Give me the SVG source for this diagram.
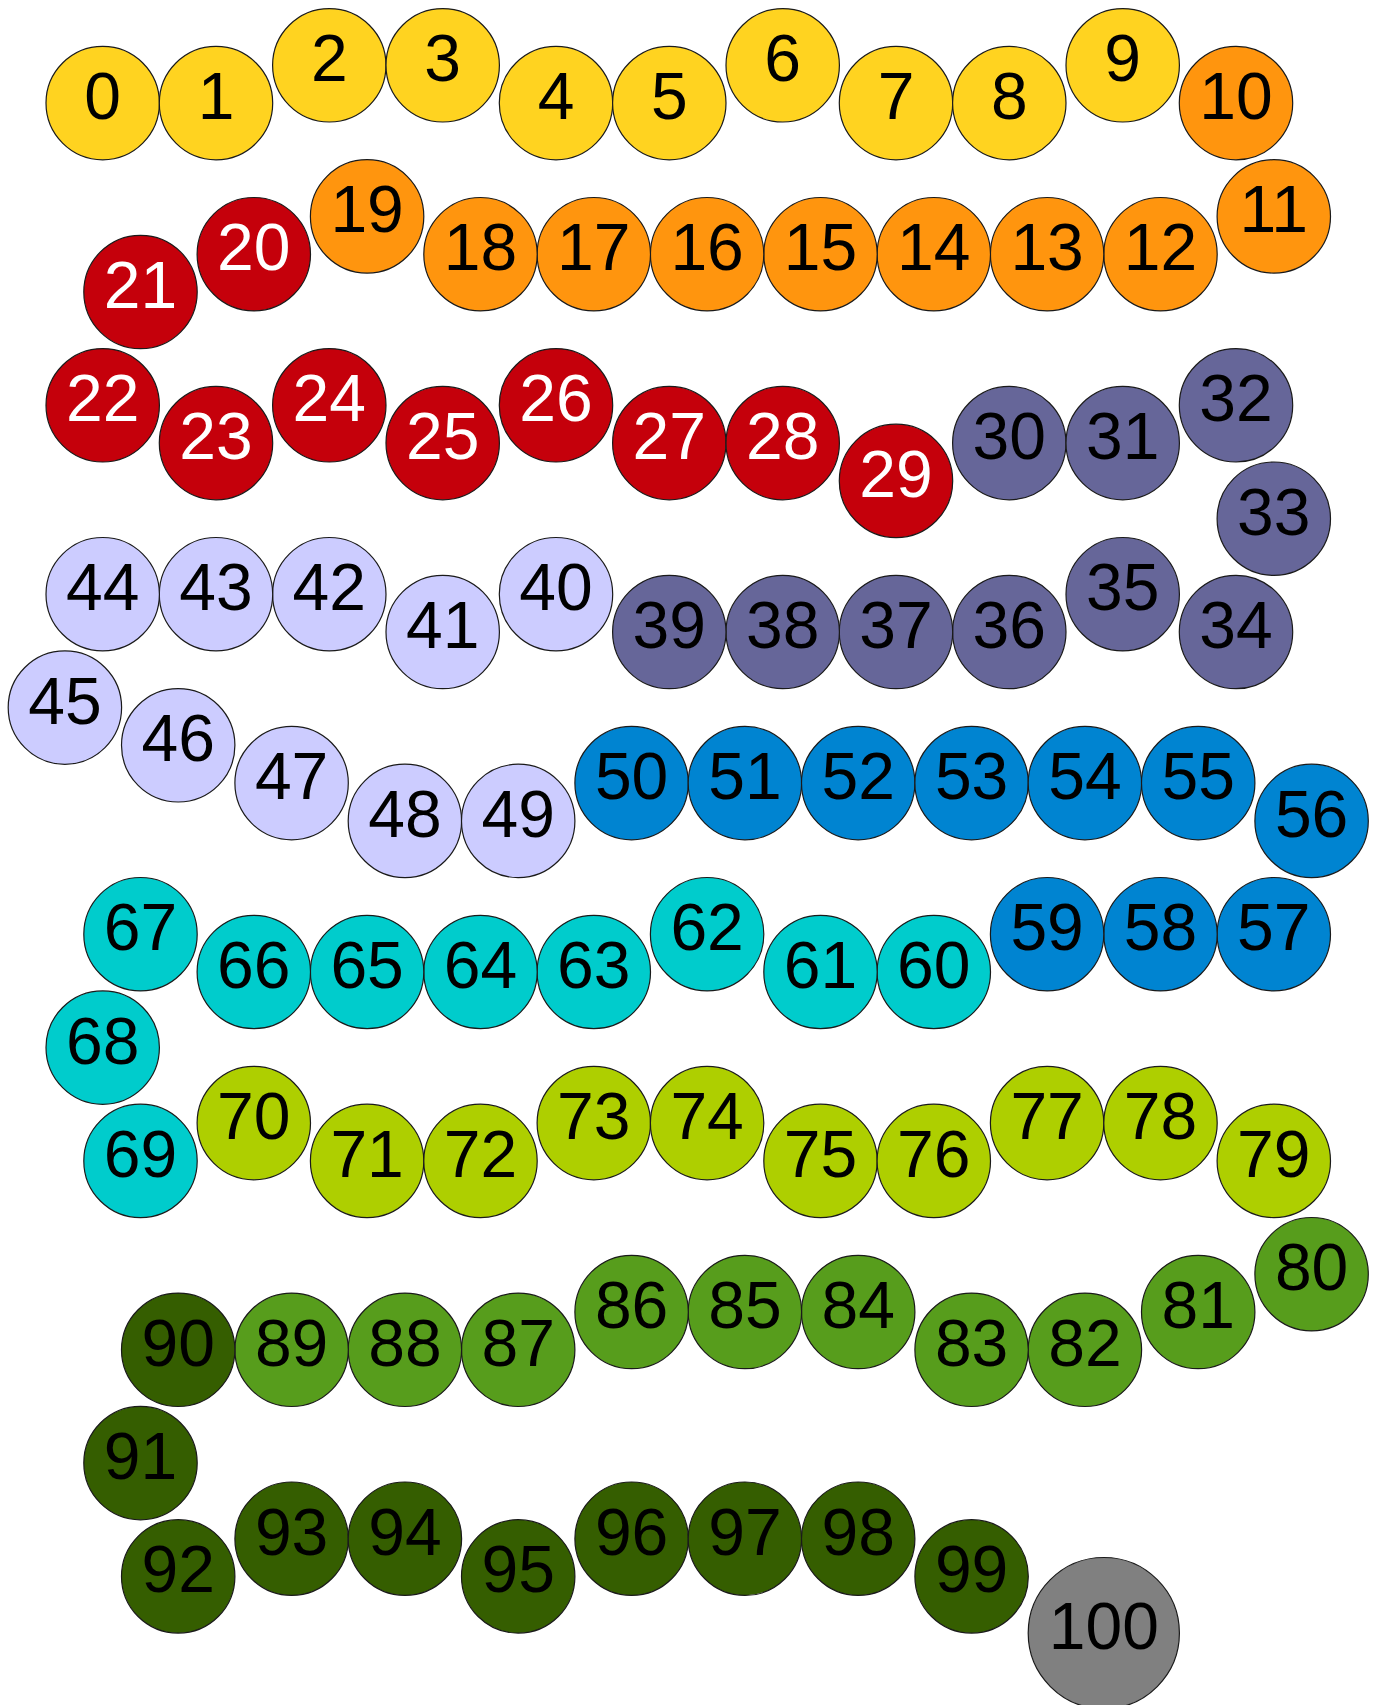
<svg xmlns="http://www.w3.org/2000/svg" width="1383" height="1705" viewBox="0 0 1383 1705">
<style>
circle{stroke:#1a1a1a;stroke-width:1.2}
text{font-family:"Liberation Sans","DejaVu Sans",sans-serif;font-size:66px;text-anchor:middle;fill:#000}
.y{fill:#FFD320}.o{fill:#FF950E}.r{fill:#C5000B}.s{fill:#666699}.l{fill:#CCCCFF}.b{fill:#0084D1}.c{fill:#00CCCC}.yg{fill:#AECF00}.g{fill:#579D1C}.dg{fill:#355E00}.gr{fill:#808080}
.w{fill:#fff}
</style>
<rect width="1383" height="1705" fill="#fff"/>
<g id="connectors"/>
<g id="n0"><circle class="y" cx="102.7" cy="103.1" r="56.7"/><text x="102.7" y="119.1">0</text></g>
<g id="n1"><circle class="y" cx="216" cy="103.1" r="56.7"/><text x="216" y="119.1">1</text></g>
<g id="n2"><circle class="y" cx="329.3" cy="65.3" r="56.7"/><text x="329.3" y="81.3">2</text></g>
<g id="n3"><circle class="y" cx="442.7" cy="65.3" r="56.7"/><text x="442.7" y="81.3">3</text></g>
<g id="n4"><circle class="y" cx="556" cy="103.1" r="56.7"/><text x="556" y="119.1">4</text></g>
<g id="n5"><circle class="y" cx="669.3" cy="103.1" r="56.7"/><text x="669.3" y="119.1">5</text></g>
<g id="n6"><circle class="y" cx="782.7" cy="65.3" r="56.7"/><text x="782.7" y="81.3">6</text></g>
<g id="n7"><circle class="y" cx="896" cy="103.1" r="56.7"/><text x="896" y="119.1">7</text></g>
<g id="n8"><circle class="y" cx="1009.3" cy="103.1" r="56.7"/><text x="1009.3" y="119.1">8</text></g>
<g id="n9"><circle class="y" cx="1122.7" cy="65.3" r="56.7"/><text x="1122.7" y="81.3">9</text></g>
<g id="n10"><circle class="o" cx="1236" cy="103.1" r="56.7"/><text x="1236" y="119.1">10</text></g>
<g id="n11"><circle class="o" cx="1273.8" cy="216.4" r="56.7"/><text x="1273.8" y="232.4">11</text></g>
<g id="n12"><circle class="o" cx="1160.5" cy="254.2" r="56.7"/><text x="1160.5" y="270.2">12</text></g>
<g id="n13"><circle class="o" cx="1047.1" cy="254.2" r="56.7"/><text x="1047.1" y="270.2">13</text></g>
<g id="n14"><circle class="o" cx="933.8" cy="254.2" r="56.7"/><text x="933.8" y="270.2">14</text></g>
<g id="n15"><circle class="o" cx="820.5" cy="254.2" r="56.7"/><text x="820.5" y="270.2">15</text></g>
<g id="n16"><circle class="o" cx="707.1" cy="254.2" r="56.7"/><text x="707.1" y="270.2">16</text></g>
<g id="n17"><circle class="o" cx="593.8" cy="254.2" r="56.7"/><text x="593.8" y="270.2">17</text></g>
<g id="n18"><circle class="o" cx="480.5" cy="254.2" r="56.7"/><text x="480.5" y="270.2">18</text></g>
<g id="n19"><circle class="o" cx="367.1" cy="216.4" r="56.7"/><text x="367.1" y="232.4">19</text></g>
<g id="n20"><circle class="r" cx="253.8" cy="254.2" r="56.7"/><text class="w" x="253.8" y="270.2">20</text></g>
<g id="n21"><circle class="r" cx="140.5" cy="292" r="56.7"/><text class="w" x="140.5" y="308">21</text></g>
<g id="n22"><circle class="r" cx="102.7" cy="405.3" r="56.7"/><text class="w" x="102.7" y="421.3">22</text></g>
<g id="n23"><circle class="r" cx="216" cy="443.1" r="56.7"/><text class="w" x="216" y="459.1">23</text></g>
<g id="n24"><circle class="r" cx="329.3" cy="405.3" r="56.7"/><text class="w" x="329.3" y="421.3">24</text></g>
<g id="n25"><circle class="r" cx="442.7" cy="443.1" r="56.7"/><text class="w" x="442.7" y="459.1">25</text></g>
<g id="n26"><circle class="r" cx="556" cy="405.3" r="56.7"/><text class="w" x="556" y="421.3">26</text></g>
<g id="n27"><circle class="r" cx="669.3" cy="443.1" r="56.7"/><text class="w" x="669.3" y="459.1">27</text></g>
<g id="n28"><circle class="r" cx="782.7" cy="443.1" r="56.7"/><text class="w" x="782.7" y="459.1">28</text></g>
<g id="n29"><circle class="r" cx="896" cy="480.9" r="56.7"/><text class="w" x="896" y="496.9">29</text></g>
<g id="n30"><circle class="s" cx="1009.3" cy="443.1" r="56.7"/><text x="1009.3" y="459.1">30</text></g>
<g id="n31"><circle class="s" cx="1122.7" cy="443.1" r="56.7"/><text x="1122.7" y="459.1">31</text></g>
<g id="n32"><circle class="s" cx="1236" cy="405.3" r="56.7"/><text x="1236" y="421.3">32</text></g>
<g id="n33"><circle class="s" cx="1273.8" cy="518.7" r="56.7"/><text x="1273.8" y="534.7">33</text></g>
<g id="n34"><circle class="s" cx="1236" cy="632" r="56.7"/><text x="1236" y="648">34</text></g>
<g id="n35"><circle class="s" cx="1122.7" cy="594.2" r="56.7"/><text x="1122.7" y="610.2">35</text></g>
<g id="n36"><circle class="s" cx="1009.3" cy="632" r="56.7"/><text x="1009.3" y="648">36</text></g>
<g id="n37"><circle class="s" cx="896" cy="632" r="56.7"/><text x="896" y="648">37</text></g>
<g id="n38"><circle class="s" cx="782.7" cy="632" r="56.7"/><text x="782.7" y="648">38</text></g>
<g id="n39"><circle class="s" cx="669.3" cy="632" r="56.7"/><text x="669.3" y="648">39</text></g>
<g id="n40"><circle class="l" cx="556" cy="594.2" r="56.7"/><text x="556" y="610.2">40</text></g>
<g id="n41"><circle class="l" cx="442.7" cy="632" r="56.7"/><text x="442.7" y="648">41</text></g>
<g id="n42"><circle class="l" cx="329.3" cy="594.2" r="56.7"/><text x="329.3" y="610.2">42</text></g>
<g id="n43"><circle class="l" cx="216" cy="594.2" r="56.7"/><text x="216" y="610.2">43</text></g>
<g id="n44"><circle class="l" cx="102.7" cy="594.2" r="56.7"/><text x="102.7" y="610.2">44</text></g>
<g id="n45"><circle class="l" cx="64.9" cy="707.6" r="56.7"/><text x="64.9" y="723.6">45</text></g>
<g id="n46"><circle class="l" cx="178.2" cy="745.3" r="56.7"/><text x="178.2" y="761.3">46</text></g>
<g id="n47"><circle class="l" cx="291.6" cy="783.1" r="56.7"/><text x="291.6" y="799.1">47</text></g>
<g id="n48"><circle class="l" cx="404.9" cy="820.9" r="56.7"/><text x="404.9" y="836.9">48</text></g>
<g id="n49"><circle class="l" cx="518.2" cy="820.9" r="56.7"/><text x="518.2" y="836.9">49</text></g>
<g id="n50"><circle class="b" cx="631.6" cy="783.1" r="56.7"/><text x="631.6" y="799.1">50</text></g>
<g id="n51"><circle class="b" cx="744.9" cy="783.1" r="56.7"/><text x="744.9" y="799.1">51</text></g>
<g id="n52"><circle class="b" cx="858.2" cy="783.1" r="56.7"/><text x="858.2" y="799.1">52</text></g>
<g id="n53"><circle class="b" cx="971.6" cy="783.1" r="56.7"/><text x="971.6" y="799.1">53</text></g>
<g id="n54"><circle class="b" cx="1084.9" cy="783.1" r="56.7"/><text x="1084.9" y="799.1">54</text></g>
<g id="n55"><circle class="b" cx="1198.2" cy="783.1" r="56.7"/><text x="1198.2" y="799.1">55</text></g>
<g id="n56"><circle class="b" cx="1311.6" cy="820.9" r="56.7"/><text x="1311.6" y="836.9">56</text></g>
<g id="n57"><circle class="b" cx="1273.8" cy="934.2" r="56.7"/><text x="1273.8" y="950.2">57</text></g>
<g id="n58"><circle class="b" cx="1160.5" cy="934.2" r="56.7"/><text x="1160.5" y="950.2">58</text></g>
<g id="n59"><circle class="b" cx="1047.1" cy="934.2" r="56.7"/><text x="1047.1" y="950.2">59</text></g>
<g id="n60"><circle class="c" cx="933.8" cy="972" r="56.7"/><text x="933.8" y="988">60</text></g>
<g id="n61"><circle class="c" cx="820.5" cy="972" r="56.7"/><text x="820.5" y="988">61</text></g>
<g id="n62"><circle class="c" cx="707.1" cy="934.2" r="56.7"/><text x="707.1" y="950.2">62</text></g>
<g id="n63"><circle class="c" cx="593.8" cy="972" r="56.7"/><text x="593.8" y="988">63</text></g>
<g id="n64"><circle class="c" cx="480.5" cy="972" r="56.7"/><text x="480.5" y="988">64</text></g>
<g id="n65"><circle class="c" cx="367.1" cy="972" r="56.7"/><text x="367.1" y="988">65</text></g>
<g id="n66"><circle class="c" cx="253.8" cy="972" r="56.7"/><text x="253.8" y="988">66</text></g>
<g id="n67"><circle class="c" cx="140.5" cy="934.2" r="56.7"/><text x="140.5" y="950.2">67</text></g>
<g id="n68"><circle class="c" cx="102.7" cy="1047.6" r="56.7"/><text x="102.7" y="1063.6">68</text></g>
<g id="n69"><circle class="c" cx="140.5" cy="1160.9" r="56.7"/><text x="140.5" y="1176.9">69</text></g>
<g id="n70"><circle class="yg" cx="253.8" cy="1123.1" r="56.7"/><text x="253.8" y="1139.1">70</text></g>
<g id="n71"><circle class="yg" cx="367.1" cy="1160.9" r="56.7"/><text x="367.1" y="1176.9">71</text></g>
<g id="n72"><circle class="yg" cx="480.5" cy="1160.9" r="56.7"/><text x="480.5" y="1176.9">72</text></g>
<g id="n73"><circle class="yg" cx="593.8" cy="1123.1" r="56.7"/><text x="593.8" y="1139.1">73</text></g>
<g id="n74"><circle class="yg" cx="707.1" cy="1123.1" r="56.7"/><text x="707.1" y="1139.1">74</text></g>
<g id="n75"><circle class="yg" cx="820.5" cy="1160.9" r="56.7"/><text x="820.5" y="1176.9">75</text></g>
<g id="n76"><circle class="yg" cx="933.8" cy="1160.9" r="56.7"/><text x="933.8" y="1176.9">76</text></g>
<g id="n77"><circle class="yg" cx="1047.1" cy="1123.1" r="56.7"/><text x="1047.1" y="1139.1">77</text></g>
<g id="n78"><circle class="yg" cx="1160.5" cy="1123.1" r="56.7"/><text x="1160.5" y="1139.1">78</text></g>
<g id="n79"><circle class="yg" cx="1273.8" cy="1160.9" r="56.7"/><text x="1273.8" y="1176.9">79</text></g>
<g id="n80"><circle class="g" cx="1311.6" cy="1274.2" r="56.7"/><text x="1311.6" y="1290.2">80</text></g>
<g id="n81"><circle class="g" cx="1198.2" cy="1312" r="56.7"/><text x="1198.2" y="1328">81</text></g>
<g id="n82"><circle class="g" cx="1084.9" cy="1349.8" r="56.7"/><text x="1084.9" y="1365.8">82</text></g>
<g id="n83"><circle class="g" cx="971.6" cy="1349.8" r="56.7"/><text x="971.6" y="1365.8">83</text></g>
<g id="n84"><circle class="g" cx="858.2" cy="1312" r="56.7"/><text x="858.2" y="1328">84</text></g>
<g id="n85"><circle class="g" cx="744.9" cy="1312" r="56.7"/><text x="744.9" y="1328">85</text></g>
<g id="n86"><circle class="g" cx="631.6" cy="1312" r="56.7"/><text x="631.6" y="1328">86</text></g>
<g id="n87"><circle class="g" cx="518.2" cy="1349.8" r="56.7"/><text x="518.2" y="1365.8">87</text></g>
<g id="n88"><circle class="g" cx="404.9" cy="1349.8" r="56.7"/><text x="404.9" y="1365.8">88</text></g>
<g id="n89"><circle class="g" cx="291.6" cy="1349.8" r="56.7"/><text x="291.6" y="1365.8">89</text></g>
<g id="n90"><circle class="dg" cx="178.2" cy="1349.8" r="56.7"/><text x="178.2" y="1365.8">90</text></g>
<g id="n91"><circle class="dg" cx="140.5" cy="1463.1" r="56.7"/><text x="140.5" y="1479.1">91</text></g>
<g id="n92"><circle class="dg" cx="178.2" cy="1576.4" r="56.7"/><text x="178.2" y="1592.4">92</text></g>
<g id="n93"><circle class="dg" cx="291.6" cy="1538.7" r="56.7"/><text x="291.6" y="1554.7">93</text></g>
<g id="n94"><circle class="dg" cx="404.9" cy="1538.7" r="56.7"/><text x="404.9" y="1554.7">94</text></g>
<g id="n95"><circle class="dg" cx="518.2" cy="1576.4" r="56.7"/><text x="518.2" y="1592.4">95</text></g>
<g id="n96"><circle class="dg" cx="631.6" cy="1538.7" r="56.7"/><text x="631.6" y="1554.7">96</text></g>
<g id="n97"><circle class="dg" cx="744.9" cy="1538.7" r="56.7"/><text x="744.9" y="1554.7">97</text></g>
<g id="n98"><circle class="dg" cx="858.2" cy="1538.7" r="56.7"/><text x="858.2" y="1554.7">98</text></g>
<g id="n99"><circle class="dg" cx="971.6" cy="1576.4" r="56.7"/><text x="971.6" y="1592.4">99</text></g>
<g id="n100"><circle class="gr" cx="1103.8" cy="1633.1" r="75.6"/><text x="1103.8" y="1649.1">100</text></g>
</svg>
